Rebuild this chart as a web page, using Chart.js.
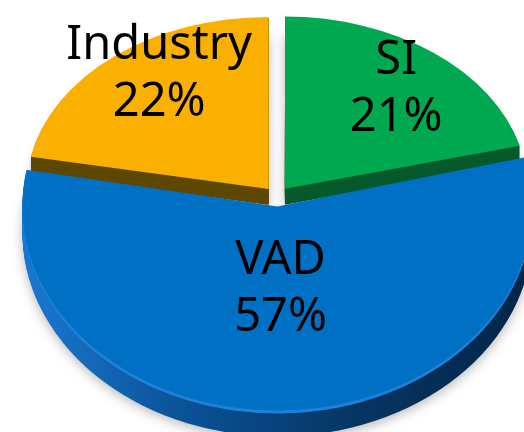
<!DOCTYPE html>
<html>
<head>
<meta charset="utf-8">
<script src="https://cdn.jsdelivr.net/npm/chart.js@4.4.1/dist/chart.umd.min.js"></script>
<style>
  html, body { margin: 0; padding: 0; background: #fff; overflow: hidden; }
</style>
</head>
<body>
<canvas id="pie" width="524" height="432"></canvas>
<script>
var categories = ["SI", "VAD", "Industry"];
var shares = [21, 57, 22];
var topColors = ["#00A850", "#0070C4", "#F9B000"];
var sideColors = ["#075A2B", "#0A3F77", "#5E4800"];

// fake 3D: flat pie squashed vertically, then extruded downwards
// (front slice gets a taller squash to imitate perspective)
var centerX = 277, centerY = 196;
var tilt = [0.71, 0.8, 0.71];
var thickness = [16, 26, 16];
var labelFracX = [0.75, 0.42, 0.71];
var labelFracY = [0.757, 0.41, 0.89];

function paintArc(el, ctx, color) {
  var saved = el.options;
  el.options = Object.assign({}, saved, { backgroundColor: color, borderColor: color, borderWidth: 0 });
  el.draw(ctx);
  el.options = saved;
}

function sideFill(ctx, el, i, d) {
  if (i !== 1) return sideColors[i];
  if (d <= 3) return "#1F82DA";
  var r = el.outerRadius;
  var g = ctx.createLinearGradient(el.x - r, 0, el.x + r, 0);
  g.addColorStop(0, "#1976CE");
  g.addColorStop(0.3, "#0B5298");
  g.addColorStop(0.65, "#063663");
  g.addColorStop(1, "#03264A");
  return g;
}

function project(ctx, el, i) {
  ctx.translate(centerX, centerY);
  ctx.scale(1, tilt[i]);
  ctx.translate(-el.x, -el.y);
}

var tiltPlugin = {
  id: "tilt",
  beforeDatasetsDraw: function (chart) {
    var ctx = chart.ctx;
    var arcs = chart.getDatasetMeta(0).data;
    [2, 0, 1].forEach(function (i) {
      var el = arcs[i];
      for (var d = thickness[i]; d >= 1; d--) {
        ctx.save();
        project(ctx, el, i);
        ctx.translate(0, d / tilt[i]);
        if (d === thickness[i]) {
          ctx.shadowColor = "rgba(0,0,0,0.28)";
          ctx.shadowBlur = 12;
          ctx.shadowOffsetY = 3;
        }
        paintArc(el, ctx, sideFill(ctx, el, i, d));
        ctx.restore();
      }
    });
    // tops drawn here too, each with its own squash
    arcs.forEach(function (el, i) {
      ctx.save();
      project(ctx, el, i);
      el.draw(ctx);
      ctx.restore();
    });
    return false;
  },
  afterDraw: function (chart) {
    var ctx = chart.ctx;
    var arcs = chart.getDatasetMeta(0).data;
    ctx.save();
    ctx.fillStyle = "#000";
    ctx.font = "47px 'Noto Sans'";
    ctx.textAlign = "center";
    ctx.textBaseline = "alphabetic";
    arcs.forEach(function (el, i) {
      var h = (el.startAngle + el.endAngle) / 2;
      var off = (el.options.offset || 0) / 4;
      var sx = centerX + Math.cos(h) * (off + labelFracX[i] * el.outerRadius);
      var sy = centerY + Math.sin(h) * (off + labelFracY[i] * el.outerRadius) * tilt[i];
      ctx.fillText(categories[i], sx, sy - 12);
      ctx.fillText(shares[i] + "%", sx, sy + 45);
    });
    ctx.restore();
  }
};

new Chart(document.getElementById("pie").getContext("2d"), {
  type: "pie",
  data: {
    labels: categories,
    datasets: [{
      data: shares,
      backgroundColor: topColors,
      borderWidth: 0,
      offset: 52,
      hoverOffset: 0,
      clip: false
    }]
  },
  options: {
    responsive: false,
    animation: false,
    events: [],
    radius: 242,
    layout: { padding: 0 },
    plugins: {
      legend: { display: false },
      tooltip: { enabled: false }
    }
  },
  plugins: [tiltPlugin]
});
</script>
</body>
</html>
